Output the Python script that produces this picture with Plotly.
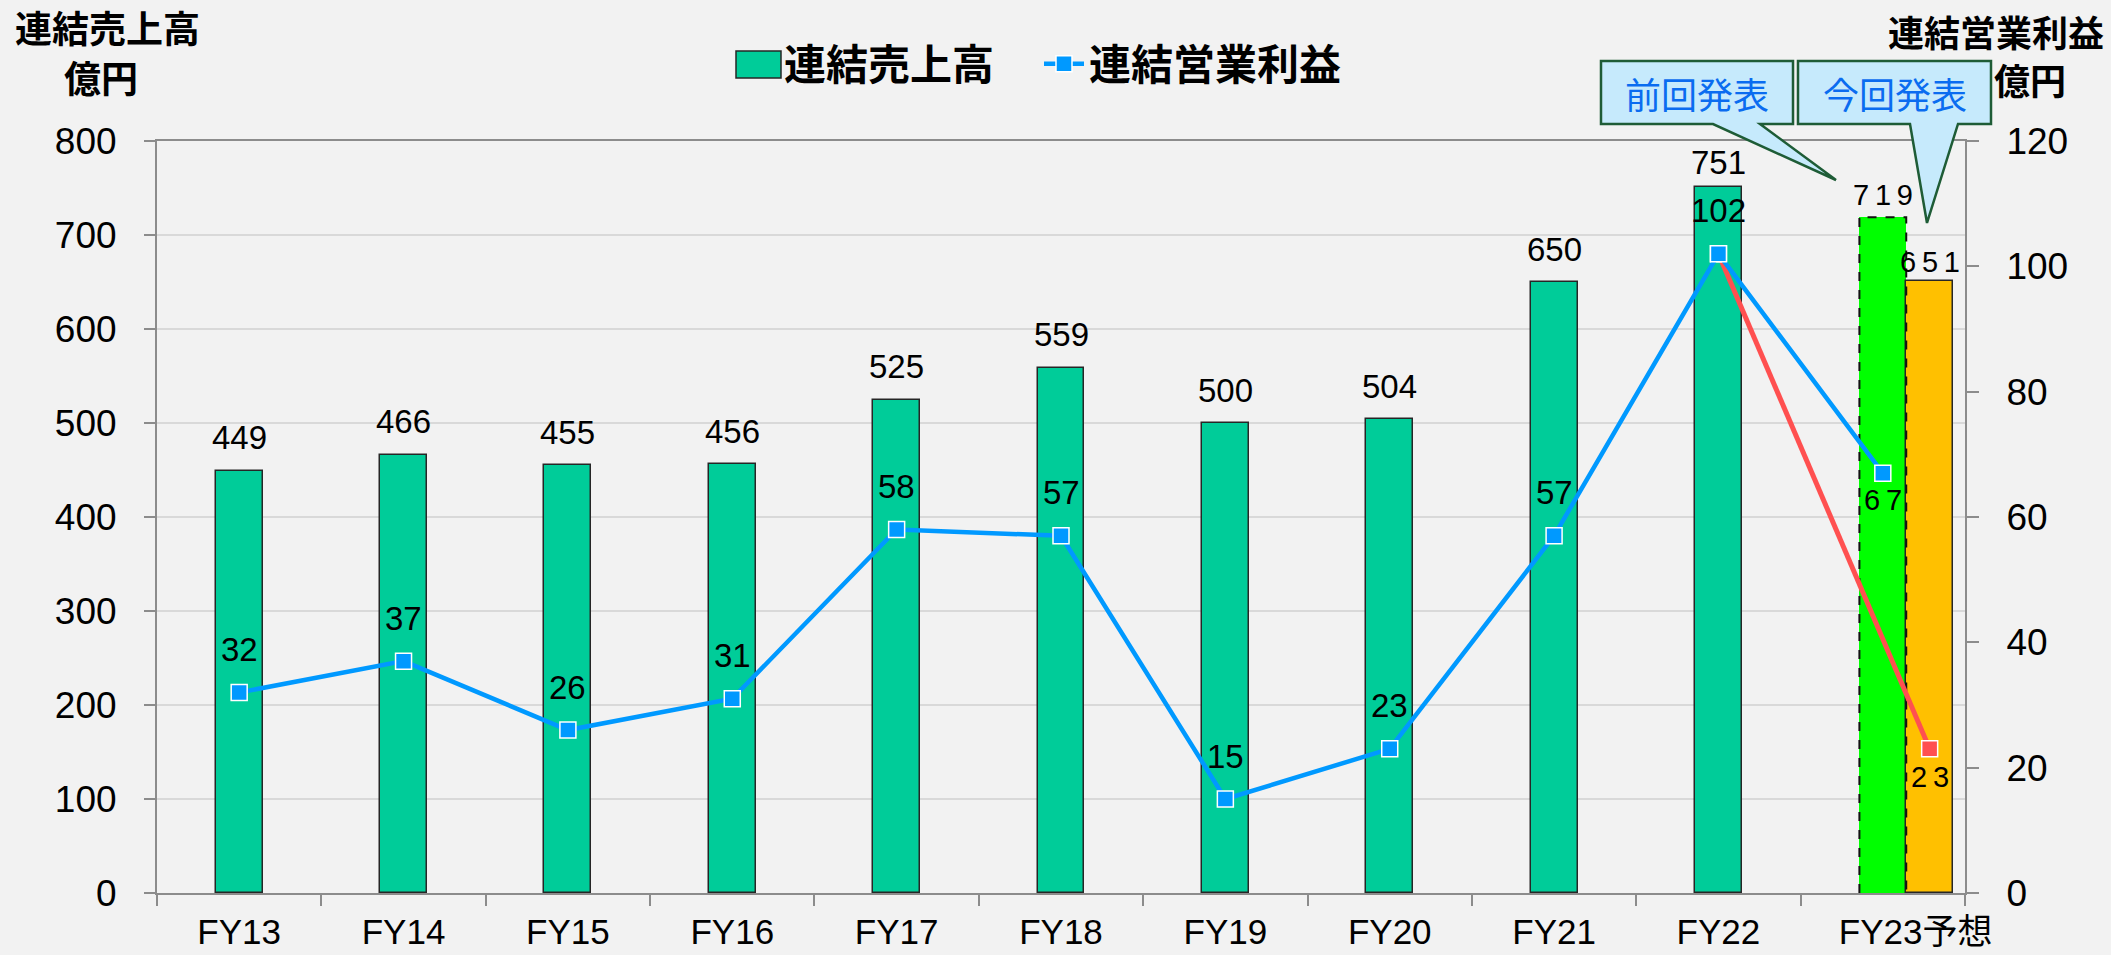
import plotly.graph_objects as go

# ---------------- data ----------------
categories = ["FY13", "FY14", "FY15", "FY16", "FY17", "FY18", "FY19", "FY20", "FY21", "FY22", "FY23予想"]
sales = [449, 466, 455, 456, 525, 559, 500, 504, 650, 751]        # 連結売上高 (億円)
sales_prev_forecast = 719                                           # FY23 前回発表
sales_curr_forecast = 651                                           # FY23 今回発表
profit = [32, 37, 26, 31, 58, 57, 15, 23, 57, 102]                 # 連結営業利益 (億円)
profit_prev_forecast = 67
profit_curr_forecast = 23
left_ticks = list(range(0, 801, 100))
right_ticks = list(range(0, 121, 20))

# ---------------- geometry / style ----------------
W_PX, H_PX = 2111, 955
ML, MR, MT, MB = 157, 146, 141, 62
PW, PH = W_PX - ML - MR, H_PX - MT - MB
BW = 0.285  # bar width (category units)

def px2x(px):
    return (px - ML) / PW

def py2y(py):
    return (H_PX - MB - py) / PH

LAT = "Liberation Sans, Noto Sans CJK JP, sans-serif"
CJK = "Noto Sans CJK JP, sans-serif"
AXIS_GRAY = "#8c8c8c"
TEAL = "#00cc99"
BLUE = "#0099ff"
RED = "#ff5050"

n_hist = len(sales)
x_hist = list(range(n_hist))
x_fc = n_hist            # FY23 position
x_fc_curr = x_fc + BW    # 今回発表 bar, right next to 前回発表

fig = go.Figure()

# legend entry for the bars (swatch drawn as a wider rectangle shape below)
fig.add_trace(go.Scatter(
    x=[None], y=[None], mode="markers", name="<b>連結売上高</b>",
    marker=dict(size=1, color="rgba(0,0,0,0)"), hoverinfo="skip"))

fig.add_trace(go.Bar(
    x=x_hist, y=sales, width=BW, name="連結売上高", showlegend=False,
    marker=dict(color=TEAL, line=dict(color="#262626", width=1.5)),
    hoverinfo="skip"))
fig.add_trace(go.Bar(
    x=[x_fc], y=[sales_prev_forecast], width=BW, showlegend=False,
    marker=dict(color="#00ff00", line=dict(width=0)), hoverinfo="skip"))
fig.add_trace(go.Scatter(
    x=[x_fc - BW / 2, x_fc - BW / 2, x_fc + BW / 2, x_fc + BW / 2],
    y=[0, sales_prev_forecast, sales_prev_forecast, 0],
    mode="lines", line=dict(color="#111111", width=2, dash="dash"),
    showlegend=False, hoverinfo="skip"))
fig.add_trace(go.Bar(
    x=[x_fc_curr], y=[sales_curr_forecast], width=BW, showlegend=False,
    marker=dict(color="#ffc000", line=dict(color="#262626", width=1.5)),
    hoverinfo="skip"))

marker_line = dict(color="white", width=1.5)
fig.add_trace(go.Scatter(
    x=[x_hist[-1], x_fc_curr], y=[profit[-1], profit_curr_forecast], yaxis="y2",
    mode="lines+markers", line=dict(color=RED, width=5),
    marker=dict(symbol="square", size=16, color=RED, line=marker_line),
    showlegend=False, hoverinfo="skip"))
fig.add_trace(go.Scatter(
    x=x_hist + [x_fc], y=profit + [profit_prev_forecast], yaxis="y2",
    name="<b>連結営業利益</b>", mode="lines+markers", line=dict(color=BLUE, width=4.5),
    marker=dict(symbol="square", size=16, color=BLUE, line=marker_line),
    hoverinfo="skip"))

ann = []
# sales labels
for i, v in enumerate(sales):
    ann.append(dict(x=i, y=v, xref="x", yref="y", text=str(v), showarrow=False,
                    yshift=25 if i == n_hist - 1 else 33,
                    font=dict(family=LAT, size=33, color="black")))
ann.append(dict(x=x_fc, y=sales_prev_forecast, xref="x", yref="y",
                text="\u2009".join(str(sales_prev_forecast)), showarrow=False, yshift=22,
                font=dict(family=LAT, size=29, color="black")))
ann.append(dict(x=x_fc_curr, y=sales_curr_forecast, xref="x", yref="y",
                text="\u2009".join(str(sales_curr_forecast)), showarrow=False, yshift=19,
                font=dict(family=LAT, size=29, color="black")))
# profit labels
for i, v in enumerate(profit):
    ann.append(dict(x=i, y=v, xref="x", yref="y2", text=str(v), showarrow=False,
                    yshift=43, font=dict(family=LAT, size=33, color="black")))
ann.append(dict(x=x_fc, y=profit_prev_forecast, xref="x", yref="y2",
                text="\u2009".join(str(profit_prev_forecast)), showarrow=False, yshift=-27,
                font=dict(family=LAT, size=29, color="black")))
ann.append(dict(x=x_fc_curr, y=profit_curr_forecast, xref="x", yref="y2",
                text="\u2009".join(str(profit_curr_forecast)), showarrow=False, yshift=-28,
                font=dict(family=LAT, size=29, color="black")))

# axis titles
title_font = dict(family=CJK, size=37, color="black")
ann.append(dict(xref="paper", yref="paper", x=px2x(107), y=py2y(27), xanchor="center",
                yanchor="middle", showarrow=False, text="<b>連結売上高</b>", font=title_font))
ann.append(dict(xref="paper", yref="paper", x=px2x(101), y=py2y(77), xanchor="center",
                yanchor="middle", showarrow=False, text="<b>億円</b>", font=title_font))
ann.append(dict(xref="paper", yref="paper", x=px2x(2106), y=py2y(31), xanchor="right",
                yanchor="middle", showarrow=False, text="<b>連結営業利益</b>",
                font=dict(family=CJK, size=36, color="black")))
ann.append(dict(xref="paper", yref="paper", x=px2x(2030), y=py2y(79), xanchor="center",
                yanchor="middle", showarrow=False, text="<b>億円</b>",
                font=dict(family=CJK, size=36, color="black")))

# callouts
def callout_path(x0, x1, y0, y1, b0, b1, tx, ty):
    pts = [(x0, y0), (x1, y0), (x1, y1), (b1, y1), (tx, ty), (b0, y1), (x0, y1)]
    return "M " + " L ".join(f"{px2x(a):.5f},{py2y(b):.5f}" for a, b in pts) + " Z"

shapes = []
callouts = [
    ("前回発表", (1601, 1793, 61, 124, 1713, 1760, 1836, 180)),
    ("今回発表", (1798, 1991, 61, 124, 1910, 1958, 1927, 223)),
]
for text, geo in callouts:
    shapes.append(dict(type="path", xref="paper", yref="paper", path=callout_path(*geo),
                       fillcolor="#c6eafc", line=dict(color="#1e5c36", width=2.5),
                       layer="above"))
    ann.append(dict(xref="paper", yref="paper", x=px2x((geo[0] + geo[1]) / 2),
                    y=py2y((geo[2] + geo[3]) / 2), xanchor="center", yanchor="middle",
                    showarrow=False, text=text,
                    font=dict(family=CJK, size=36, color="#0a6cf0")))

# wider legend swatch for the bar series (Excel-style rectangle)
shapes.append(dict(type="rect", xref="paper", yref="paper",
                   x0=px2x(736), x1=px2x(781), y0=py2y(78), y1=py2y(51),
                   fillcolor=TEAL, line=dict(color="#262626", width=1.5), layer="above"))

xtick_font = dict(family=LAT, size=35, color="black")
ytick_font = dict(family=LAT, size=37, color="black")

fig.update_layout(
    width=W_PX, height=H_PX,
    margin=dict(l=ML, r=MR, t=MT, b=MB, pad=0, autoexpand=False),
    paper_bgcolor="#f2f2f2", plot_bgcolor="#f2f2f2",
    barmode="overlay", bargap=0,
    showlegend=True,
    legend=dict(orientation="h", x=px2x(1039), y=py2y(64), xanchor="center", yanchor="middle",
                font=dict(family=CJK, size=42, color="black"), bgcolor="rgba(0,0,0,0)",
                itemwidth=40, entrywidth=250),
    xaxis=dict(range=[-0.5, x_fc + 0.5], tickmode="array",
               tickvals=x_hist + [x_fc + 0.7 * BW], ticktext=categories,
               ticks="", showgrid=False, zeroline=False, automargin=False,
               showline=True, linecolor=AXIS_GRAY, linewidth=2, mirror=True,
               tickfont=xtick_font, ticklabelstandoff=7,
               minor=dict(tickmode="array", tickvals=[i - 0.5 for i in range(n_hist + 2)],
                          ticks="outside", ticklen=11, tickcolor=AXIS_GRAY, tickwidth=2,
                          showgrid=False)),
    yaxis=dict(range=[0, 800], tickmode="array", tickvals=left_ticks,
               ticks="outside", ticklen=11, tickcolor=AXIS_GRAY, tickwidth=2,
               showline=True, linecolor=AXIS_GRAY, linewidth=2, automargin=False,
               showgrid=True, gridcolor="#d9d9d9", gridwidth=2, zeroline=False,
               tickfont=ytick_font, ticklabelstandoff=20),
    yaxis2=dict(range=[0, 120], tickmode="array", tickvals=right_ticks,
                overlaying="y", side="right", automargin=False,
                ticks="outside", ticklen=12, tickcolor=AXIS_GRAY, tickwidth=2,
                showline=True, linecolor=AXIS_GRAY, linewidth=2,
                showgrid=False, zeroline=False,
                tickfont=ytick_font, ticklabelstandoff=20),
    annotations=ann, shapes=shapes,
)

fig.write_html("out.html", config={"displayModeBar": False},
               post_script="document.body.style.margin='0';document.body.style.overflow='hidden';")
